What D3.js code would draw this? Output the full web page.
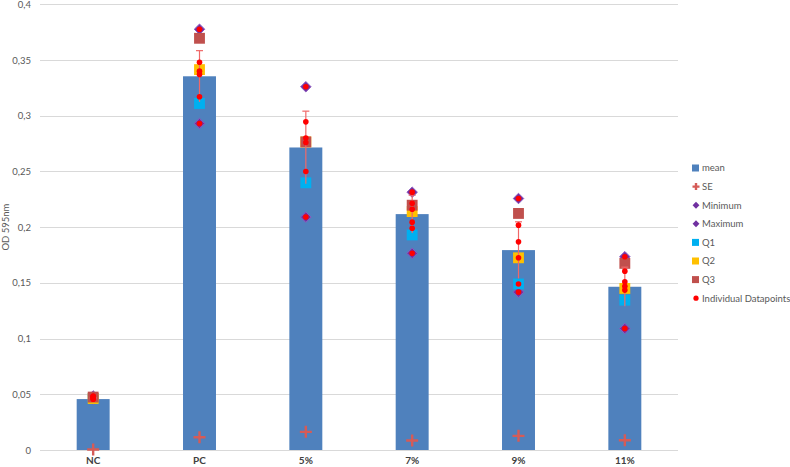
<!DOCTYPE html>
<html>
<head>
<meta charset="utf-8">
<script src="https://cdn.jsdelivr.net/npm/d3@7"></script>
<style>
  body { margin: 0; background: #fff; }
  svg { font-family: Lato, "Liberation Sans", sans-serif; }
</style>
</head>
<body>
<div id="chart"></div>
<script>
const categories = ['NC', 'PC', '5%', '7%', '9%', '11%'];
const mean = [0.0457, 0.3354, 0.2715, 0.2117, 0.1794, 0.1465];
const se = [0.0005, 0.0115, 0.0163, 0.0085, 0.0127, 0.0088];
const minimum = [0.0455, 0.293, 0.209, 0.1765, 0.1417, 0.109];
const maximum = [0.0485, 0.3776, 0.326, 0.2314, 0.2257, 0.1735];
const q1 = [0.0462, 0.311, 0.2398, 0.193, 0.149, 0.1345];
const q2 = [0.0462, 0.3414, 0.2765, 0.214, 0.1725, 0.145];
const q3 = [0.0475, 0.3695, 0.2765, 0.2197, 0.2123, 0.1675];
const points = [
  [0.0485, 0.048, 0.0475, 0.047, 0.046, 0.0455],
  [0.3776, 0.348, 0.340, 0.337, 0.317, 0.293],
  [0.326, 0.2945, 0.280, 0.276, 0.250, 0.209],
  [0.2314, 0.2215, 0.216, 0.2045, 0.199, 0.1765],
  [0.2257, 0.2018, 0.1868, 0.1725, 0.149, 0.1417],
  [0.1735, 0.1605, 0.151, 0.147, 0.1435, 0.109]
];
const yTicks = [0, 0.05, 0.1, 0.15, 0.2, 0.25, 0.3, 0.35, 0.4];
const legendItems = ['mean', 'SE', 'Minimum', 'Maximum', 'Q1', 'Q2', 'Q3', 'Individual Datapoints'];

const width = 790, height = 467;
const svg = d3.select('#chart').append('svg')
  .attr('width', width).attr('height', height);

const x = d3.scaleBand().domain(categories).range([40, 678])
  .paddingInner(0.69).paddingOuter(0.345);
const y = d3.scaleLinear().domain([0, 0.4]).range([450, 4.3]);
const cx = c => x(c) + x.bandwidth() / 2;
const fmt = v => String(v).replace('.', ',');

// gridlines
svg.append('g').selectAll('line').data(yTicks).join('line')
  .attr('x1', 40).attr('x2', 678)
  .attr('y1', d => Math.round(y(d)) + 0.5).attr('y2', d => Math.round(y(d)) + 0.5)
  .attr('stroke', '#d9d9d9').attr('stroke-width', 1);

// y axis labels
const yAxis = d3.axisLeft(y).tickValues(yTicks).tickFormat(fmt).tickSize(0).tickPadding(9);
svg.append('g').attr('transform', 'translate(40,0)').call(yAxis)
  .call(g => g.select('.domain').remove())
  .selectAll('text').attr('fill', '#595959').attr('font-size', 9.5)
  .attr('font-family', 'Lato, sans-serif');

// x axis labels
const xAxis = d3.axisBottom(x).tickSize(0).tickPadding(7);
svg.append('g').attr('transform', 'translate(0,450)').call(xAxis)
  .call(g => g.select('.domain').remove())
  .selectAll('text').attr('fill', '#404040').attr('font-size', 10).attr('font-weight', 'bold')
  .attr('font-family', 'Lato, sans-serif');

svg.append('text')
  .attr('transform', `translate(9,${(y(0) + y(0.4)) / 2}) rotate(-90)`)
  .attr('text-anchor', 'middle').attr('font-size', 9.5).attr('fill', '#595959')
  .text('OD 595nm');

// bars
svg.append('g').selectAll('rect').data(categories).join('rect')
  .attr('x', d => x(d)).attr('width', x.bandwidth())
  .attr('y', (d, i) => y(mean[i])).attr('height', (d, i) => y(0) - y(mean[i]))
  .attr('fill', '#4f81bd');

// SE plus markers
function plus(g, px, py, s) {
  g.append('path').attr('d', `M${px - s},${py}H${px + s}M${px},${py - s}V${py + s}`)
    .attr('stroke', '#d55b57').attr('stroke-width', 2.4).attr('fill', 'none');
}
const seG = svg.append('g');
categories.forEach((c, i) => plus(seG, cx(c), y(se[i]), 6));

const diamond = d3.symbol().type(d3.symbolDiamond2).size(70);
const square = d3.symbol().type(d3.symbolSquare2).size(150);

function markers(vals, sym, color, stroke) {
  svg.append('g').selectAll('path').data(categories).join('path')
    .attr('transform', (d, i) => `translate(${cx(d)},${y(vals[i])})`)
    .attr('d', sym).attr('fill', color)
    .attr('stroke', stroke || 'none').attr('stroke-width', 1);
}
markers(minimum, diamond, '#7030a0', '#8e5cc0');
markers(maximum, diamond, '#7030a0', '#8e5cc0');
markers(q1, square, '#00b0f0');
markers(q2, square, '#ffc000');
markers(q3, square, '#c0504d');

// error bars (mean ± 2 SE)
const eb = svg.append('g').attr('stroke', '#f06868').attr('stroke-width', 1.2);
categories.forEach((c, i) => {
  const lo = y(mean[i] - 2 * se[i]), hi = y(mean[i] + 2 * se[i]);
  eb.append('line').attr('x1', cx(c)).attr('x2', cx(c)).attr('y1', lo).attr('y2', hi);
  eb.append('line').attr('x1', cx(c) - 3.5).attr('x2', cx(c) + 3.5).attr('y1', hi).attr('y2', hi);
});

// individual points
categories.forEach((c, i) => {
  svg.append('g').selectAll('circle').data(points[i]).join('circle')
    .attr('cx', cx(c)).attr('cy', d => y(d)).attr('r', 2.8).attr('fill', '#ff0000');
});

// legend
const lg = svg.append('g').attr('font-size', 9.5).attr('fill', '#595959');
const ly = i => 168 + i * 18.6;
legendItems.forEach((t, i) => {
  lg.append('text').attr('x', 702).attr('y', ly(i)).attr('dy', '0.35em').text(t);
});
lg.append('rect').attr('x', 692).attr('y', ly(0) - 3.5).attr('width', 7).attr('height', 7).attr('fill', '#4f81bd');
plus(lg, 696, ly(1), 3.5);
const ld = d3.symbol().type(d3.symbolDiamond2).size(30);
lg.append('path').attr('transform', `translate(696,${ly(2)})`).attr('d', ld).attr('fill', '#7030a0');
lg.append('path').attr('transform', `translate(696,${ly(3)})`).attr('d', ld).attr('fill', '#7030a0');
[['#00b0f0', 4], ['#ffc000', 5], ['#c0504d', 6]].forEach(([col, i]) => {
  lg.append('rect').attr('x', 692).attr('y', ly(i) - 3.5).attr('width', 7).attr('height', 7).attr('fill', col);
});
lg.append('circle').attr('cx', 696).attr('cy', ly(7)).attr('r', 2.6).attr('fill', '#ff0000');
</script>
</body>
</html>
